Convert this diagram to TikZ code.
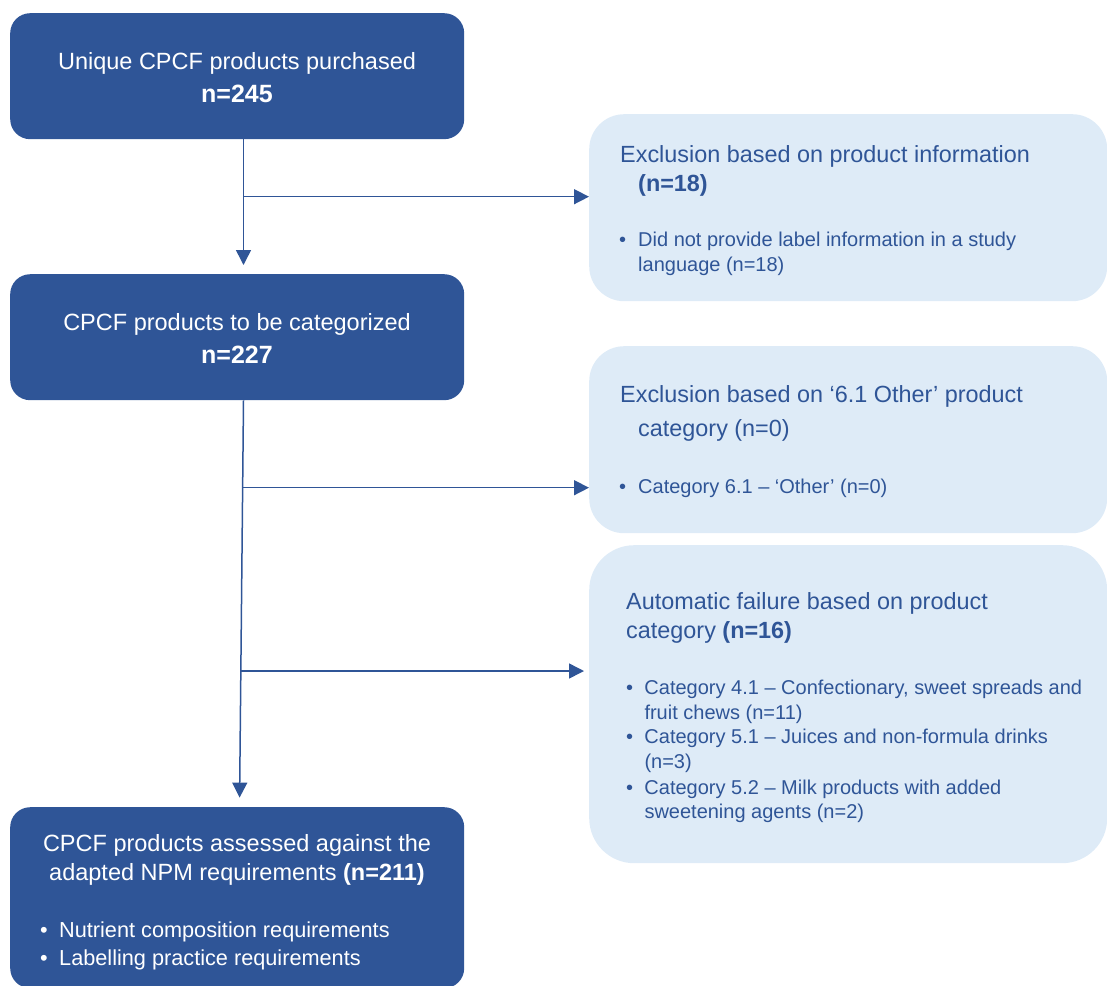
\documentclass[tikz,border=0pt]{standalone}
\usepackage{fontspec}
\setmainfont{Liberation Sans}
\usetikzlibrary{arrows.meta}

\definecolor{npmblue}{RGB}{47,85,151}
\definecolor{npmlight}{RGB}{222,235,247}

\tikzstyle{darkbox}=[rectangle,rounded corners=20pt,fill=npmblue,anchor=north west,inner sep=0pt]
\tikzstyle{lightbox}=[rectangle,rounded corners=35pt,fill=npmlight,anchor=north west,inner sep=0pt]
\tikzstyle{whitetext}=[text=white,inner sep=0pt,anchor=base]
\tikzstyle{whiteitem}=[text=white,inner sep=0pt,anchor=base west]
\tikzstyle{bluetext}=[text=npmblue,inner sep=0pt,anchor=base west]
\tikzstyle{flow}=[draw=npmblue,line width=1.5pt,-{Triangle[length=15pt,width=15pt]}]

\newcommand{\bul}[1][19pt]{\makebox[#1][l]{\textbullet}}
\newcommand{\mainfont}{\fontsize{23.5}{28}\selectfont}
\newcommand{\countfont}{\fontsize{25}{30}\selectfont\bfseries}
\newcommand{\sidefont}{\fontsize{23.4}{28}\selectfont}
\newcommand{\itemfont}{\fontsize{20}{25}\selectfont}
\newcommand{\lastitemfont}{\fontsize{21.7}{27}\selectfont}

\begin{document}
\begin{tikzpicture}[x=1pt,y=-1pt]
\useasboundingbox (0,0) rectangle (1107,985);
% left column
\node[darkbox,minimum width=454pt,minimum height=126pt] (bought) at (10,13) {};
\node[whitetext,font=\mainfont] (bought1) at (237,69) {Unique CPCF products purchased};
\node[whitetext,font=\countfont] (bought2) at (237,102) {n=245};
\node[darkbox,minimum width=454pt,minimum height=126pt] (sorted) at (10,274) {};
\node[whitetext,font=\mainfont] (sorted1) at (237,330) {CPCF products to be categorized};
\node[whitetext,font=\countfont] (sorted2) at (237,363) {n=227};
\node[darkbox,minimum width=454pt,minimum height=181pt] (assessed) at (10,807) {};
\node[whitetext,font=\mainfont] (assessed1) at (237,851) {CPCF products assessed against the};
\node[whitetext,font=\mainfont] (assessed2) at (237,880) {adapted NPM requirements \textbf{(n=211)}};
\node[whiteitem,font=\lastitemfont] (assessed3) at (40,937.7) {\bul Nutrient composition requirements};
\node[whiteitem,font=\lastitemfont] (assessed4) at (40,965) {\bul Labelling practice requirements};
% right column
\node[lightbox,minimum width=518pt,minimum height=187pt] (noinfo) at (589,114) {};
\node[bluetext,font=\sidefont] (noinfo1) at (620,162.7) {Exclusion based on product information};
\node[bluetext,font=\sidefont\bfseries] (noinfo2) at (638,191) {(n=18)};
\node[bluetext,font=\itemfont] (noinfo3) at (619,246.7) {\bul Did not provide label information in a study};
\node[bluetext,font=\itemfont] (noinfo4) at (638,271.7) {language (n=18)};
\node[lightbox,minimum width=518pt,minimum height=187pt] (other) at (589,346) {};
\node[bluetext,font=\sidefont] (other1) at (620,402.7) {Exclusion based on ‘6.1 Other’ product};
\node[bluetext,font=\sidefont] (other2) at (638,436.7) {category (n=0)};
\node[bluetext,font=\itemfont] (other3) at (619,493) {\bul Category 6.1 – ‘Other’ (n=0)};
\node[lightbox,rounded corners=45pt,minimum width=518pt,minimum height=318pt] (autofail) at (589,545) {};
\node[bluetext,font=\sidefont] (autofail1) at (626,609) {Automatic failure based on product};
\node[bluetext,font=\sidefont] (autofail2) at (626,638.3) {category \textbf{(n=16)}};
\node[bluetext,font=\itemfont] (autofail3) at (626,694.3) {\bul[18.3pt]Category 4.1 – Confectionary, sweet spreads and};
\node[bluetext,font=\itemfont] (autofail4) at (644.3,719) {fruit chews (n=11)};
\node[bluetext,font=\itemfont] (autofail5) at (626,743.3) {\bul[18.3pt]Category 5.1 – Juices and non-formula drinks};
\node[bluetext,font=\itemfont] (autofail6) at (644.3,768.3) {(n=3)};
\node[bluetext,font=\itemfont] (autofail7) at (626,794) {\bul[18.3pt]Category 5.2 – Milk products with added};
\node[bluetext,font=\itemfont] (autofail8) at (644.3,818.3) {sweetening agents (n=2)};
% arrows
\coordinate (split1) at (243.3,196.7);
\coordinate (split2) at (242.4,487.7);
\coordinate (split3) at (240.6,671);
\draw[flow,shorten >=9pt] ([xshift=6.3pt]bought.south) -- ([xshift=6.3pt]sorted.north);
\draw[flow] (split1) -- (split1 -| noinfo.west);
\draw[flow,shorten >=9.4pt] ([xshift=6.3pt]sorted.south) -- ([xshift=2.3pt]assessed.north);
\draw[flow] (split2) -- (split2 -| other.west);
\draw[flow,shorten >=5pt] (split3) -- (split3 -| autofail.west);
\end{tikzpicture}
\end{document}
